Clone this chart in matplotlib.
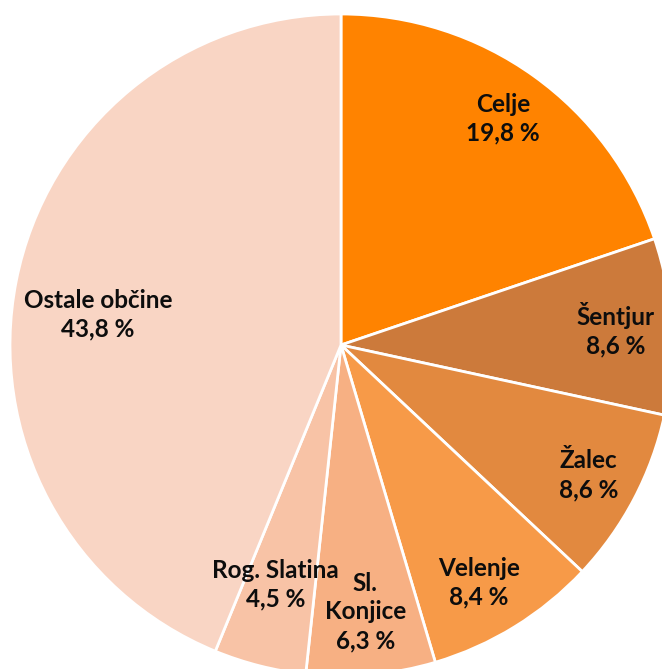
import matplotlib.pyplot as plt
import numpy as np

# podatki
names = ['Celje', 'Šentjur', 'Žalec', 'Velenje', 'Sl.\nKonjice', 'Rog. Slatina', 'Ostale občine']
shares = [19.8, 8.6, 8.6, 8.4, 6.3, 4.5, 43.8]
colors = ['#FF8300', '#CC7A3B', '#E2893F', '#F79A48', '#F7B083', '#F8C3A6', '#F9D5C4']

# polozaj oznak (delez polmera, zamik kota)
label_r = [0.84, 0.83, 0.845, 0.83, 0.81, 0.75, 0.74]
label_da = [0, 0, 0, -1.5, 0, -1, 4]

plt.rcParams['font.family'] = ['Lato', 'DejaVu Sans']

fig = plt.figure(figsize=(6.62, 6.69), dpi=100)
ax = fig.add_axes([0, 0, 1, 1])
R = 331
wedges, _ = ax.pie(shares, colors=colors, startangle=90, counterclock=False,
                   radius=R, center=(0, 0),
                   wedgeprops=dict(edgecolor='white', linewidth=2))
ax.set_xlim(-341, 662 - 341)
ax.set_ylim(-(669 - 345), 345)
ax.set_aspect('equal')
ax.axis('off')

for w, name, val, lr, da in zip(wedges, names, shares, label_r, label_da):
    ang = np.deg2rad((w.theta1 + w.theta2) / 2 + da)
    x = R * lr * np.cos(ang)
    y = R * lr * np.sin(ang)
    txt = name + '\n' + f'{val:.1f}'.replace('.', ',') + ' %'
    ax.text(x, y, txt, ha='center', va='center', fontsize=17.5,
            fontweight='bold', color='#0d0d0d', linespacing=1.3)

fig.savefig('out.png', dpi=100)
